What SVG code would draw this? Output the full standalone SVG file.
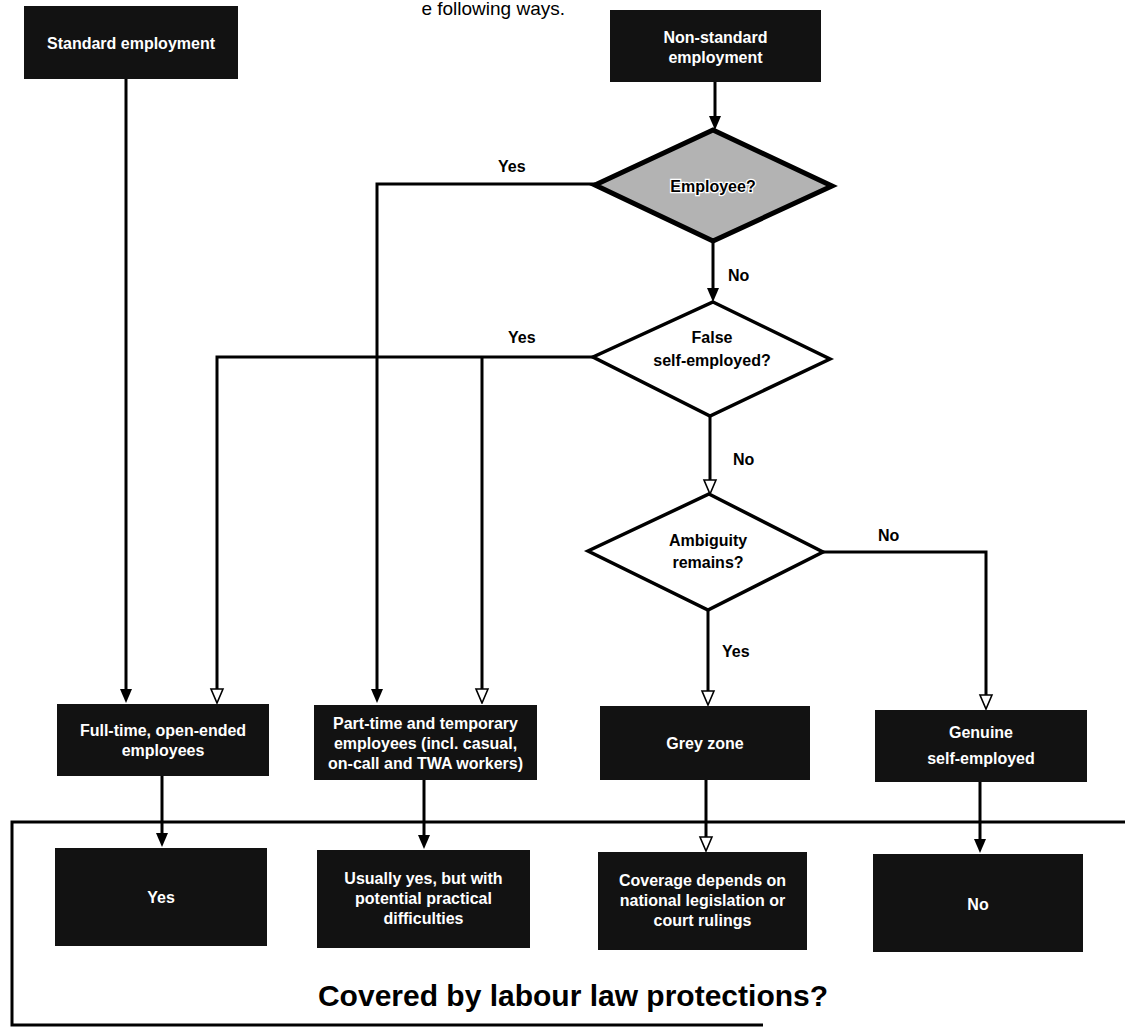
<svg xmlns="http://www.w3.org/2000/svg" width="1125" height="1027" viewBox="0 0 1125 1027">
<defs>
<style>
.box{fill:#121212;}
.bt{fill:#ffffff;font-family:"Liberation Sans",Arial,sans-serif;font-weight:bold;font-size:16px;text-anchor:middle;}
.dt{fill:#000000;font-family:"Liberation Sans",Arial,sans-serif;font-weight:bold;font-size:16px;text-anchor:middle;}
.lbl{fill:#000000;font-family:"Liberation Sans",Arial,sans-serif;font-weight:bold;font-size:16px;}
.conn{fill:none;stroke:#000000;stroke-width:3;}
.dia{fill:#ffffff;stroke:#000000;stroke-width:3.5;stroke-linejoin:miter;}
</style>
<marker id="af" viewBox="0 0 14 14" refX="6" refY="7" markerWidth="14" markerHeight="14" markerUnits="userSpaceOnUse" orient="auto">
<path d="M0,1 L14,7 L0,13 z" fill="#000000"/>
</marker>
<marker id="ah" viewBox="-1 -1 16 16" refX="6" refY="7" markerWidth="16" markerHeight="16" markerUnits="userSpaceOnUse" orient="auto">
<path d="M0,1 L14,7 L0,13 z" fill="#ffffff" stroke="#000000" stroke-width="1.6"/>
</marker>
</defs>
<rect width="1125" height="1027" fill="#ffffff"/>

<text x="565" y="15" font-family="'Liberation Sans',Arial,sans-serif" font-size="19" text-anchor="end" fill="#000000">e following ways.</text>

<g id="connectors">
<path class="conn" d="M126,79 V695" marker-end="url(#af)"/>
<path class="conn" d="M715,82 V122" marker-end="url(#af)"/>
<path class="conn" d="M595,184 H377 V695" marker-end="url(#af)"/>
<path class="conn" d="M713,241 V294" marker-end="url(#af)"/>
<path class="conn" d="M593,357 H217 V695" marker-end="url(#ah)"/>
<path class="conn" d="M482,357 V695" marker-end="url(#ah)"/>
<path class="conn" d="M710,416 V486" marker-end="url(#ah)"/>
<path class="conn" d="M708,610 V697" marker-end="url(#ah)"/>
<path class="conn" d="M823,552 H986 V701" marker-end="url(#ah)"/>
<path class="conn" d="M162,776 V839" marker-end="url(#af)"/>
<path class="conn" d="M424,780 V841" marker-end="url(#af)"/>
<path class="conn" d="M706,780 V843" marker-end="url(#ah)"/>
<path class="conn" d="M980,782 V845" marker-end="url(#af)"/>
<text class="lbl" x="498" y="172">Yes</text>
<text class="lbl" x="728" y="281">No</text>
<text class="lbl" x="508" y="343">Yes</text>
<text class="lbl" x="733" y="465">No</text>
<text class="lbl" x="878" y="541">No</text>
<text class="lbl" x="722" y="657">Yes</text>
</g>

<g id="frame">
<path d="M1125,822 H12 V1025 H763" fill="none" stroke="#000000" stroke-width="3"/>
<text x="573" y="1006" font-family="'Liberation Sans',Arial,sans-serif" font-weight="bold" font-size="30" text-anchor="middle" fill="#000000">Covered by labour law protections?</text>
</g>

<g id="n-standard">
<rect class="box" x="24" y="6" width="214" height="73"/>
<text class="bt" x="131" y="49">Standard employment</text>
</g>

<g id="n-nonstandard">
<rect class="box" x="610" y="10" width="211" height="72"/>
<text class="bt" x="715.5" y="43">Non-standard</text>
<text class="bt" x="715.5" y="63">employment</text>
</g>

<g id="d-employee">
<polygon points="713,130 832,186 713,241 595,185" fill="#b3b3b3" stroke="#000000" stroke-width="5"/>
<text class="dt" x="713" y="192" stroke="#ffffff" stroke-width="2.5" paint-order="stroke">Employee?</text>
</g>

<g id="d-false">
<polygon class="dia" points="713,302 830,359 710,416 593,357"/>
<text class="dt" x="712" y="343">False</text>
<text class="dt" x="712" y="366">self-employed?</text>
</g>

<g id="d-ambiguity">
<polygon class="dia" points="709,494 823,552 708,610 588,551"/>
<text class="dt" x="708" y="546">Ambiguity</text>
<text class="dt" x="708" y="568">remains?</text>
</g>

<g id="n-fulltime">
<rect class="box" x="57" y="704" width="212" height="72"/>
<text class="bt" x="163" y="736">Full-time, open-ended</text>
<text class="bt" x="163" y="756">employees</text>
</g>

<g id="n-parttime">
<rect class="box" x="314" y="705" width="223" height="75"/>
<text class="bt" x="425.5" y="729">Part-time and temporary</text>
<text class="bt" x="425.5" y="749">employees (incl. casual,</text>
<text class="bt" x="425.5" y="769">on-call and TWA workers)</text>
</g>

<g id="n-grey">
<rect class="box" x="600" y="706" width="210" height="74"/>
<text class="bt" x="705" y="749">Grey zone</text>
</g>

<g id="n-genuine">
<rect class="box" x="875" y="710" width="212" height="72"/>
<text class="bt" x="981" y="738">Genuine</text>
<text class="bt" x="981" y="764">self-employed</text>
</g>

<g id="n-yes">
<rect class="box" x="55" y="848" width="212" height="98"/>
<text class="bt" x="161" y="903">Yes</text>
</g>

<g id="n-usually">
<rect class="box" x="317" y="850" width="213" height="98"/>
<text class="bt" x="423.5" y="884">Usually yes, but with</text>
<text class="bt" x="423.5" y="904">potential practical</text>
<text class="bt" x="423.5" y="924">difficulties</text>
</g>

<g id="n-coverage">
<rect class="box" x="598" y="852" width="209" height="98"/>
<text class="bt" x="702.5" y="886">Coverage depends on</text>
<text class="bt" x="702.5" y="906">national legislation or</text>
<text class="bt" x="702.5" y="926">court rulings</text>
</g>

<g id="n-no">
<rect class="box" x="873" y="854" width="210" height="98"/>
<text class="bt" x="978" y="910">No</text>
</g>
</svg>
